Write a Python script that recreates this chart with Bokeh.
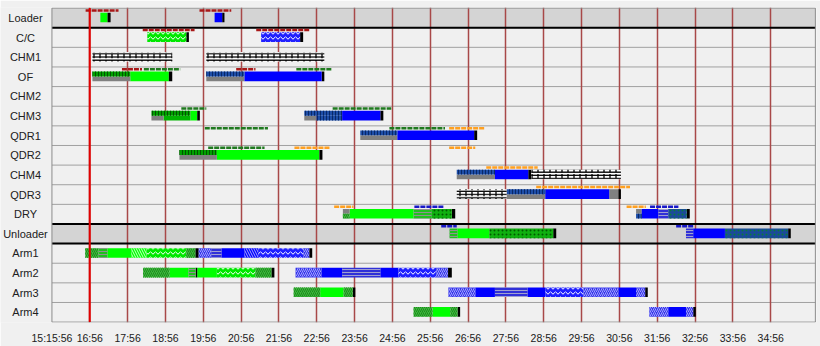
from bokeh.plotting import figure
from bokeh.models import ColumnDataSource, FixedTicker, Range1d
from bokeh.core.properties import value
from bokeh.embed import file_html
from bokeh.resources import INLINE

# ---------------- data ----------------
rows = ["Loader", "C/C", "CHM1", "OF", "CHM2", "CHM3", "QDR1", "QDR2",
        "CHM4", "QDR3", "DRY", "Unloader", "Arm1", "Arm2", "Arm3", "Arm4"]
shaded_rows = ["Loader", "Unloader"]

# minutes after 15:15:56
tick_minutes = [0, 1, 2, 3, 4, 5, 6, 7, 8, 9, 10, 11, 12, 13, 14, 15, 16, 17, 18, 19]
tick_labels = ["15:15:56", "16:56", "17:56", "18:56", "19:56", "20:56", "21:56", "22:56",
               "23:56", "24:56", "25:56", "26:56", "27:56", "28:56", "29:56", "30:56",
               "31:56", "32:56", "33:56", "34:56"]
now_minute = 1.0
time_end = 20.18

# bar segments: row, start, end (minutes), kind, part of bar height
seg_row = [
    "Loader", "Loader", "Loader", "Loader",
    "C/C", "C/C", "C/C", "C/C",
    "CHM1", "CHM1",
    "OF", "OF", "OF", "OF", "OF", "OF", "OF", "OF",
    "CHM3", "CHM3", "CHM3", "CHM3", "CHM3",
    "CHM3", "CHM3", "CHM3", "CHM3", "CHM3",
    "QDR1", "QDR1", "QDR1", "QDR1",
    "QDR2", "QDR2", "QDR2", "QDR2",
    "CHM4", "CHM4", "CHM4", "CHM4", "CHM4",
    "QDR3", "QDR3", "QDR3", "QDR3", "QDR3", "QDR3",
    "DRY", "DRY", "DRY", "DRY", "DRY", "DRY",
    "DRY", "DRY", "DRY", "DRY", "DRY", "DRY",
    "Unloader", "Unloader", "Unloader", "Unloader",
    "Unloader", "Unloader", "Unloader", "Unloader",
    "Arm1", "Arm1", "Arm1", "Arm1", "Arm1", "Arm1", "Arm1",
    "Arm1", "Arm1", "Arm1", "Arm1", "Arm1", "Arm1", "Arm1",
    "Arm2", "Arm2", "Arm2", "Arm2", "Arm2", "Arm2", "Arm2", "Arm2",
    "Arm2", "Arm2", "Arm2", "Arm2", "Arm2", "Arm2", "Arm2",
    "Arm3", "Arm3", "Arm3", "Arm3",
    "Arm3", "Arm3", "Arm3", "Arm3", "Arm3", "Arm3", "Arm3", "Arm3", "Arm3",
    "Arm4", "Arm4", "Arm4", "Arm4",
    "Arm4", "Arm4", "Arm4", "Arm4",
]
seg_start = [
    1.28, 1.47, 4.30, 4.50,
    2.52, 3.55, 5.53, 6.56,
    1.07, 4.08,
    1.07, 1.07, 2.07, 3.09, 4.08, 4.08, 5.09, 7.13,
    2.63, 2.63, 2.95, 3.66, 3.84,
    6.67, 6.67, 6.99, 7.67, 8.68,
    8.15, 8.15, 9.13, 11.16,
    3.37, 3.37, 4.36, 7.07,
    10.70, 10.70, 11.71, 12.59, 12.67,
    10.70, 12.02, 12.02, 13.04, 14.73, 14.97,
    7.69, 7.69, 7.87, 9.56, 10.04, 10.57,
    15.44, 15.44, 15.59, 16.03, 16.29, 16.78,
    10.51, 10.72, 11.56, 13.25,
    16.76, 16.95, 17.79, 19.46,
    0.88, 1.23, 1.47, 2.10, 2.50, 3.55, 3.79,
    3.88, 4.21, 4.48, 5.09, 5.45, 6.64, 6.80,
    2.41, 3.11, 3.61, 3.80, 3.84, 4.36, 5.38, 5.80,
    6.44, 7.12, 7.67, 8.68, 9.16, 10.16, 10.47,
    6.39, 7.09, 7.71, 7.95,
    10.48, 11.19, 11.71, 12.57, 13.04, 14.05, 14.97, 15.44, 15.68,
    9.56, 10.06, 10.53, 10.72,
    15.79, 16.29, 16.76, 16.95,
]
seg_end = [
    1.47, 1.55, 4.50, 4.56,
    3.55, 3.62, 6.56, 6.64,
    3.18, 7.20,
    2.07, 2.07, 3.09, 3.18, 5.09, 5.09, 7.13, 7.20,
    3.66, 2.95, 3.66, 3.84, 3.91,
    7.67, 6.99, 7.67, 8.68, 8.76,
    9.13, 9.13, 11.16, 11.24,
    4.36, 4.36, 7.07, 7.15,
    11.71, 11.71, 12.59, 12.67, 15.04,
    12.02, 13.04, 13.04, 14.73, 14.97, 15.04,
    7.87, 7.87, 9.56, 10.04, 10.57, 10.66,
    15.59, 15.59, 16.03, 16.29, 16.78, 16.86,
    10.72, 11.56, 13.25, 13.33,
    16.95, 17.79, 19.46, 19.53,
    1.23, 1.47, 2.10, 2.50, 3.55, 3.79, 3.88,
    4.21, 4.48, 5.09, 5.45, 6.64, 6.80, 6.88,
    3.11, 3.61, 3.80, 3.84, 4.36, 5.38, 5.80, 5.88,
    7.12, 7.67, 8.68, 9.16, 10.16, 10.47, 10.57,
    7.09, 7.71, 7.95, 8.02,
    11.19, 11.71, 12.57, 13.04, 14.05, 14.97, 15.44, 15.68, 15.75,
    10.06, 10.53, 10.72, 10.79,
    16.29, 16.76, 16.95, 17.02,
]
seg_kind = [
    "g", "k", "b", "k",
    "gw", "k", "bw", "k",
    "brick", "brick",
    "gv", "gray", "g", "k", "bv", "gray", "b", "k",
    "gv", "gray", "G", "g", "k",
    "bv", "gray", "bv", "b", "k",
    "bv", "gray", "b", "k",
    "gv", "gray", "g", "k",
    "bv", "gray", "b", "k", "brick",
    "brick", "bv", "gray", "b", "gray", "k",
    "gray", "gd", "g", "gh", "gc", "k",
    "gray", "bv", "b", "bh", "bc", "k",
    "gh", "g", "gc", "k",
    "bh", "b", "bc", "k",
    "gd", "gh", "g", "gl", "gw", "gd", "k",
    "bd", "bh", "b", "bl", "bw", "bd", "k",
    "gd", "g", "gh", "k", "g", "gw", "gd", "k",
    "bd", "b", "bh", "b", "bw", "bd", "k",
    "gd", "g", "gd", "k",
    "bd", "b", "bh", "b", "bw", "bd", "b", "bd", "k",
    "gd", "g", "gd", "k",
    "bd", "b", "bd", "k",
]
seg_part = [
    "full", "full", "full", "full",
    "full", "full", "full", "full",
    "full", "full",
    "top", "bot", "full", "full", "top", "bot", "full", "full",
    "top", "bot", "bot", "full", "full",
    "top", "bot", "bot", "full", "full",
    "top", "bot", "full", "full",
    "top", "bot", "full", "full",
    "top", "bot", "full", "full", "full",
    "full", "top", "bot", "full", "full", "full",
    "top", "bot", "full", "full", "full", "full",
    "top", "bot", "full", "full", "full", "full",
    "full", "full", "full", "full",
    "full", "full", "full", "full",
] + ["full"] * 56

# planned-time dashes above the bars
plan_row = ["Loader", "Loader", "C/C", "C/C", "OF", "OF", "OF", "OF",
            "CHM3", "CHM3", "QDR1", "QDR1", "QDR1", "QDR2", "QDR2", "QDR2",
            "CHM4", "QDR3", "DRY", "DRY", "DRY", "DRY", "Unloader", "Unloader"]
plan_start = [0.89, 3.90, 2.40, 5.40, 1.85, 2.43, 4.87, 6.46,
              3.42, 7.42, 4.04, 8.92, 10.50, 4.13, 6.41, 10.50,
              11.48, 12.80, 7.46, 9.58, 15.19, 15.81, 10.29, 16.50]
plan_end = [1.76, 4.74, 3.77, 6.80, 2.38, 3.39, 5.38, 7.40,
            4.08, 8.97, 5.71, 10.39, 11.45, 5.62, 7.36, 11.19,
            12.84, 15.28, 7.97, 10.35, 15.70, 16.56, 10.70, 16.95]
plan_kind = ["red", "red", "red", "red", "red", "green", "red", "green",
             "green", "green", "green", "green", "orange", "green", "orange", "orange",
             "orange", "orange", "orange", "blue", "orange", "blue", "blue", "blue"]

# ---------------- styles ----------------
styles = {
    "g": dict(fill_color="#00ff00"),
    "G": dict(fill_color="#00b400"),
    "k": dict(fill_color="#000000"),
    "gray": dict(fill_color="#808080"),
    "b": dict(fill_color="#0000ff"),
    "gv": dict(fill_color="#00a000", hatch_pattern="vertical_line", hatch_color="#005500", hatch_scale=3, hatch_weight=1),
    "bv": dict(fill_color="#1e4ea8", hatch_pattern="vertical_line", hatch_color="#082868", hatch_scale=3, hatch_weight=1),
    "brick": dict(fill_color="#ffffff", hatch_pattern="horizontal_line", hatch_color="#000000", hatch_scale=3.2, hatch_weight=1.3),
    "gw": dict(fill_color="#00e800", hatch_pattern="horizontal_wave", hatch_color="#ffffff", hatch_scale=5, hatch_weight=1),
    "bw": dict(fill_color="#2020ff", hatch_pattern="horizontal_wave", hatch_color="#ffffff", hatch_scale=5, hatch_weight=1),
    "gd": dict(fill_color="#3cb83c", hatch_pattern="right_diagonal_line", hatch_color="#1e8a1e", hatch_scale=4, hatch_weight=1),
    "bd": dict(fill_color="#3535e8", hatch_pattern="right_diagonal_line", hatch_color="#a0a0ff", hatch_scale=4, hatch_weight=1),
    "gl": dict(fill_color="#00ff00", hatch_pattern="left_diagonal_line", hatch_color="#c8ffc8", hatch_scale=5, hatch_weight=1),
    "bl": dict(fill_color="#0000ff", hatch_pattern="left_diagonal_line", hatch_color="#a8a8ff", hatch_scale=5, hatch_weight=1),
    "gh": dict(fill_color="#20c020", hatch_pattern="horizontal_line", hatch_color="#909090", hatch_scale=3, hatch_weight=1),
    "bh": dict(fill_color="#3030d8", hatch_pattern="horizontal_line", hatch_color="#a0a0d0", hatch_scale=3, hatch_weight=1),
    "gc": dict(fill_color="#10b010", hatch_pattern="dot", hatch_color="#005a00", hatch_scale=4, hatch_weight=2),
    "bc": dict(fill_color="#1a4a9a", hatch_pattern="dot", hatch_color="#0a7a3a", hatch_scale=4, hatch_weight=2),
}
# second hatch layer drawn over some kinds (brick joints)
overlays = {
    "brick": dict(fill_color=None, hatch_pattern="vertical_dash", hatch_color="#000000", hatch_scale=6, hatch_weight=1.3),
}
plan_colors = {"red": "#a81818", "green": "#1f7a1f", "orange": "#ffa020", "blue": "#1818c8"}
FONT = "Liberation Sans"
TEXT_COLOR = "#202020"

n = len(rows)
BAR_TOP, BAR_MID, BAR_BOT, PLAN_Y = 0.235, 0.48, 0.725, 0.12
LABEL_X = -0.70       # centre of the row-name column (screen layout, in minutes)
X_START, X_END = -1.36, 20.21


def row_top(name):
    return n - rows.index(name)


p = figure(width=820, height=346, x_range=Range1d(X_START, X_END), y_range=Range1d(-0.02, n + 0.03),
           output_backend="svg", toolbar_location=None,
           min_border_left=0, min_border_right=4, min_border_top=7, min_border_bottom=24,
           background_fill_color="#f0f0f0", border_fill_color="#f0f0f0",
           outline_line_color=None)
p.yaxis.visible = False
p.ygrid.visible = False

# shaded rows
sh = ColumnDataSource(dict(
    left=[0] * len(shaded_rows), right=[time_end] * len(shaded_rows),
    top=[row_top(r) for r in shaded_rows], bottom=[row_top(r) - 1 for r in shaded_rows]))
p.quad(left="left", right="right", top="top", bottom="bottom", source=sh,
       fill_color="#d4d4d4", line_color=None, level="image")

# row separators
sep = ColumnDataSource(dict(x0=[0] * (n - 1), x1=[time_end] * (n - 1), y=list(range(1, n))))
p.segment(x0="x0", y0="y", x1="x1", y1="y", source=sep, line_color="#a0a0a0", line_width=1, level="image")

# vertical minute lines
p.xgrid.ticker = FixedTicker(ticks=tick_minutes[1:])
p.xgrid.grid_line_color = "#a84848"
p.xgrid.grid_line_width = 1.5

# thick lines around shaded rows
thick = []
for r in shaded_rows:
    t = row_top(r)
    for loc in (t, t - 1):
        if 0 < loc < n:
            thick.append(loc)
tk = ColumnDataSource(dict(x0=[0] * len(thick), x1=[time_end] * len(thick), y=thick))
p.segment(x0="x0", y0="y", x1="x1", y1="y", source=tk, line_color="#000000", line_width=2)

# frame outline of the chart area
p.quad(left=[0], right=[time_end], top=[n], bottom=[0], fill_color=None,
       line_color="#8c8c8c", line_width=1)


def bar_source(kind):
    idx = [i for i, k in enumerate(seg_kind) if k == kind]
    tops, bots = [], []
    for i in idx:
        t = row_top(seg_row[i])
        part = seg_part[i]
        tops.append(t - (BAR_MID if part == "bot" else BAR_TOP))
        bots.append(t - (BAR_MID if part == "top" else BAR_BOT))
    return ColumnDataSource(dict(left=[seg_start[i] for i in idx], right=[seg_end[i] for i in idx],
                                 top=tops, bottom=bots)), len(idx)


# bars
for kind, st in styles.items():
    src, cnt = bar_source(kind)
    if not cnt:
        continue
    p.quad(left="left", right="right", top="top", bottom="bottom", source=src,
           line_color=None, **st)
    if kind in overlays:
        p.quad(left="left", right="right", top="top", bottom="bottom", source=src,
               line_color=None, **overlays[kind])

# planned dashes
for kind, col in plan_colors.items():
    idx = [i for i, k in enumerate(plan_kind) if k == kind]
    ys = [row_top(plan_row[i]) - PLAN_Y for i in idx]
    src = ColumnDataSource(dict(x0=[plan_start[i] for i in idx], x1=[plan_end[i] for i in idx], y=ys))
    p.segment(x0="x0", y0="y", x1="x1", y1="y", source=src, line_color=col,
              line_width=2.5, line_dash="5 1", line_cap="butt")

# current-time line
p.segment(x0=[now_minute], y0=[0], x1=[now_minute], y1=[n], line_color="#e00000", line_width=2)

# row names
names = ColumnDataSource(dict(x=[LABEL_X] * n, y=[row_top(r) - 0.5 for r in rows], text=rows))
p.text(x="x", y="y", text="text", source=names, text_align="center", text_baseline="middle",
       text_font=value(FONT), text_font_size="11px", text_color=TEXT_COLOR)

# x axis
ax = p.xaxis[0]
ax.ticker = FixedTicker(ticks=tick_minutes)
ax.major_label_overrides = {m: lab for m, lab in zip(tick_minutes, tick_labels)}
ax.axis_line_color = None
ax.major_tick_line_color = None
ax.minor_tick_line_color = None
ax.major_label_standoff = 3
ax.major_label_text_font = FONT
ax.major_label_text_font_size = "10.5px"
ax.major_label_text_color = TEXT_COLOR

open("out.html", "w").write(file_html(p, INLINE))
